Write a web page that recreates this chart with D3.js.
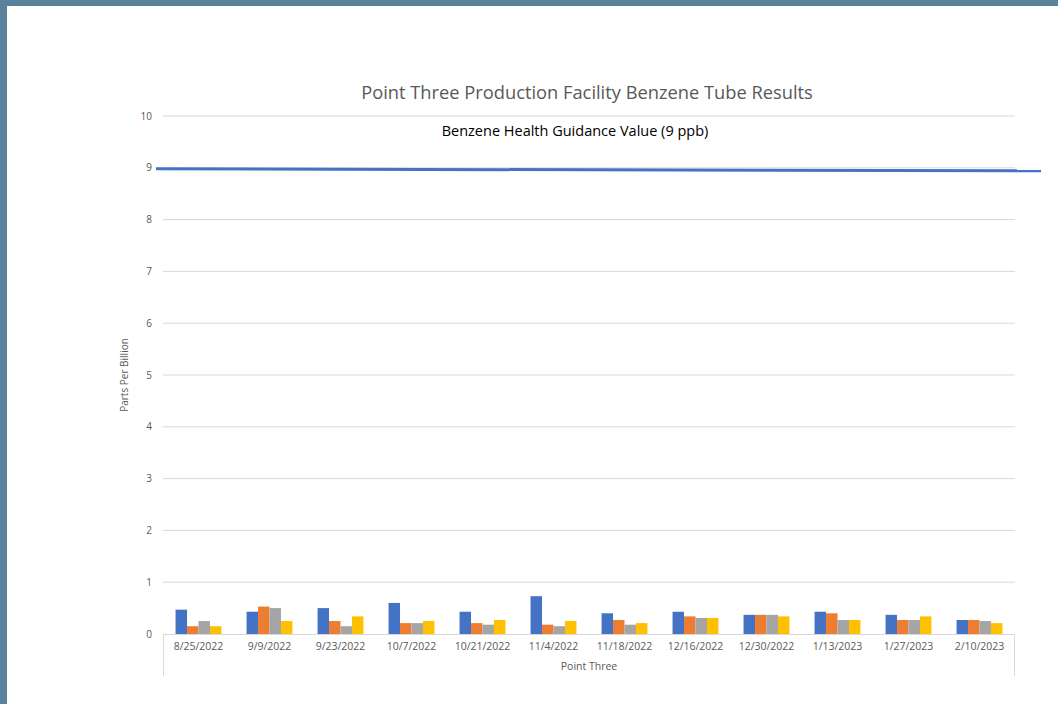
<!DOCTYPE html>
<html>
<head>
<meta charset="utf-8">
<script src="https://cdn.jsdelivr.net/npm/d3@7"></script>
<style>
body {
    margin: 0;
    background: #ffffff;
    font-family: "Open Sans", sans-serif;
}
svg {
    display: block;
}
</style>
</head>
<body>
<svg></svg>
<script>
const dates = ["8/25/2022", "9/9/2022", "9/23/2022", "10/7/2022", "10/21/2022", "11/4/2022",
    "11/18/2022", "12/16/2022", "12/30/2022", "1/13/2023", "1/27/2023", "2/10/2023"];
const seriesNames = ["Tube 1", "Tube 2", "Tube 3", "Tube 4"];
const tube1 = [0.47, 0.43, 0.50, 0.60, 0.43, 0.73, 0.40, 0.43, 0.37, 0.43, 0.37, 0.27];
const tube2 = [0.15, 0.53, 0.25, 0.21, 0.21, 0.18, 0.27, 0.34, 0.37, 0.40, 0.27, 0.27];
const tube3 = [0.25, 0.50, 0.15, 0.21, 0.18, 0.15, 0.18, 0.31, 0.37, 0.27, 0.27, 0.25];
const tube4 = [0.15, 0.25, 0.34, 0.25, 0.27, 0.25, 0.21, 0.31, 0.34, 0.27, 0.34, 0.21];
const yTicks = [0, 1, 2, 3, 4, 5, 6, 7, 8, 9, 10];
const guidance = 9;

const colors = ["#4472c4", "#ed7d31", "#a5a5a5", "#ffc000"];
const series = [tube1, tube2, tube3, tube4];

const width = 1058, height = 704;
const svg = d3.select("svg").attr("width", width).attr("height", height);

// window frame
svg.append("rect").attr("x", 0).attr("y", 0).attr("width", width).attr("height", 6).attr("fill", "#5b829c");
svg.append("rect").attr("x", 0).attr("y", 0).attr("width", 7).attr("height", height).attr("fill", "#5b829c");

const plot = {left: 163, right: 1015, top: 116, bottom: 634};

const x = d3.scaleBand().domain(dates).range([plot.left, plot.right]);
// Excel-style gap width 219%
const barW = x.bandwidth() / (4 + 2.19);
const y = d3.scaleLinear().domain([0, 10]).range([plot.bottom, plot.top]);

// gridlines
svg.append("g")
    .selectAll("line")
    .data(yTicks.filter(d => d > 0))
    .join("line")
    .attr("x1", plot.left).attr("x2", plot.right)
    .attr("y1", d => y(d)).attr("y2", d => y(d))
    .attr("stroke", "#d9d9d9").attr("stroke-width", 1);

// y tick labels
svg.append("g")
    .selectAll("text")
    .data(yTicks)
    .join("text")
    .attr("x", 152)
    .attr("y", d => y(d))
    .attr("dy", "0.35em")
    .attr("text-anchor", "end")
    .attr("font-size", 10)
    .attr("fill", "#595959")
    .text(d => d);

// bars
const groups = svg.append("g")
    .selectAll("g")
    .data(dates)
    .join("g")
    .attr("transform", d => `translate(${x(d) + (x.bandwidth() - 4 * barW) / 2},0)`);

groups.selectAll("rect")
    .data((d, i) => series.map((s, k) => ({k, v: s[i]})))
    .join("rect")
    .attr("x", d => d.k * barW)
    .attr("width", barW)
    .attr("y", d => y(d.v))
    .attr("height", d => y(0) - y(d.v))
    .attr("fill", d => colors[d.k]);

// category axis box
const axis = svg.append("g").attr("stroke", "#d9d9d9").attr("stroke-width", 1);
axis.append("line").attr("x1", plot.left).attr("x2", plot.right).attr("y1", plot.bottom + 0.5).attr("y2", plot.bottom + 0.5);
axis.append("line").attr("x1", plot.left + 0.5).attr("x2", plot.left + 0.5).attr("y1", plot.bottom).attr("y2", 676);
axis.append("line").attr("x1", plot.right - 0.5).attr("x2", plot.right - 0.5).attr("y1", plot.bottom).attr("y2", 676);

svg.append("g")
    .selectAll("text")
    .data(dates)
    .join("text")
    .attr("x", d => x(d) + x.bandwidth() / 2)
    .attr("y", 650)
    .attr("text-anchor", "middle")
    .attr("font-size", 10.5)
    .attr("fill", "#595959")
    .text(d => d);

svg.append("text")
    .attr("x", (plot.left + plot.right) / 2)
    .attr("y", 670)
    .attr("text-anchor", "middle")
    .attr("font-size", 10.5)
    .attr("fill", "#595959")
    .text("Point Three");

// y axis title
svg.append("text")
    .attr("transform", `translate(128,${(plot.top + plot.bottom) / 2}) rotate(-90)`)
    .attr("text-anchor", "middle")
    .attr("font-size", 10)
    .attr("fill", "#595959")
    .text("Parts Per Billion");

// chart title
svg.append("text")
    .attr("x", 587)
    .attr("y", 99)
    .attr("text-anchor", "middle")
    .attr("font-size", 18.3)
    .attr("fill", "#595959")
    .text("Point Three Production Facility Benzene Tube Results");

// guidance line and label
svg.append("line")
    .attr("x1", 156).attr("x2", 1041)
    .attr("y1", y(guidance) + 1).attr("y2", y(guidance - 0.04) + 1)
    .attr("stroke", "#4472c4").attr("stroke-width", 3);

svg.append("text")
    .attr("x", 575)
    .attr("y", 136)
    .attr("text-anchor", "middle")
    .attr("font-size", 14.5)
    .attr("fill", "#000000")
    .text("Benzene Health Guidance Value (9 ppb)");
</script>
</body>
</html>
